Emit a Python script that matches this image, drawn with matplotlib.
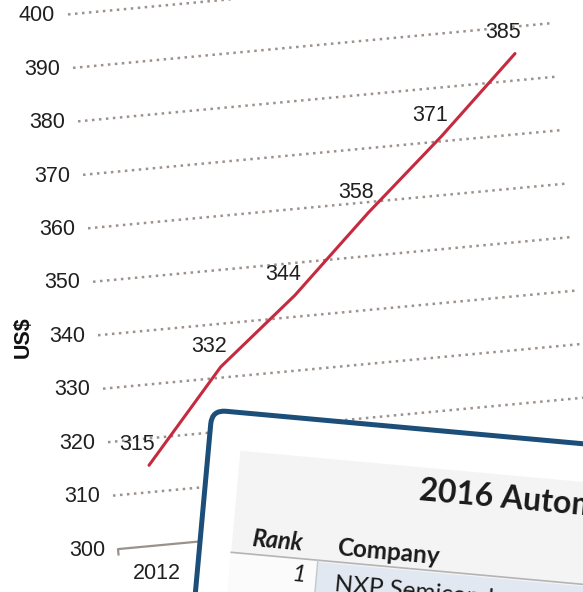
"""Cost per vehicle line chart (tilted photo) with a 2016 ranking table card on top."""

import matplotlib

matplotlib.use("Agg")
import matplotlib.pyplot as plt
from matplotlib.patches import FancyBboxPatch, Rectangle
from matplotlib.transforms import Affine2D

# chart data
years = ["2012", "2013", "2014", "2015", "2016", "2017"]
values = [315, 332, 344, 358, 371, 385]
y_ticks = [300, 310, 320, 330, 340, 350, 360, 370, 380, 390, 400]
y_label = "US$"

# inset table text
table_title = "2016 Automotive Semiconductor Ranking"
table_header = ["Rank", "Company"]
table_row = ["1", "NXP Semiconductors"]

RED = "#c62a3f"
GRID = "#9c928b"
TEXT = "#202020"
NAVY = "#1b4e79"
FONT = "Liberation Sans"
TABLE_FONT = "Lato"

W, H, DPI = 583, 592, 100


def main():
    fig = plt.figure(figsize=(W / DPI, H / DPI), dpi=DPI)
    fig.patch.set_facecolor("white")

    # unrotated axes, then the whole thing is tilted ~5 deg about (2012, 300)
    step, unit = 80.55, 5.37
    x0, y0 = 156.5, 46.5
    ax = fig.add_axes([(x0 - 0.5 * step) / W, y0 / H, 6 * step / W, 100 * unit / H])
    ax.set_xlim(-0.5, 5.5)
    ax.set_ylim(300, 400)
    ax.axis("off")
    tilt = (fig.dpi_scale_trans.inverted()
            + Affine2D().rotate_deg_around(x0 / DPI, y0 / DPI, 5.34)
            + fig.dpi_scale_trans)
    T = ax.transData + tilt

    xs = list(range(len(years)))
    for v in y_ticks[1:]:
        ax.plot([-0.48, 5.5], [v, v], transform=T, clip_on=False, color=GRID,
                lw=1.8, linestyle=(0, (1, 1.8)))
    ax.plot([-0.48, -0.48, 5.5], [299.0, 300, 300], transform=T, clip_on=False,
            color="#9b918a", lw=1.6)
    for v in y_ticks:
        ax.text(-0.64, v, str(v), transform=T, ha="right", va="center",
                fontsize=15.5, color=TEXT, family=FONT, clip_on=False)
    for i, yr in zip(xs, years):
        ax.annotate(yr, (i, 300), xycoords=T, xytext=(0, -20),
                    textcoords="offset points", ha="center", va="center",
                    fontsize=15.5, color=TEXT, family=FONT, annotation_clip=False)

    ax.plot(xs, values, transform=T, clip_on=False, color=RED, lw=2.2,
            solid_capstyle="round")
    for i, v in zip(xs, values):
        ax.annotate(str(v), (i, v), xycoords=T, xytext=(-8.5, 15),
                    textcoords="offset points", ha="center", va="center",
                    fontsize=15.5, color=TEXT, family=FONT, annotation_clip=False)

    fig.text(23 / W, 255 / H, y_label, rotation=90, ha="center", va="center",
             fontsize=15.5, fontweight="bold", color="#111111", family=FONT)

    # inset card, rotated ~5 deg clockwise; frame units are pixels, w grows down
    px, py, ang = 212, 410, -5.2
    F = (Affine2D().scale(0.01, -0.01).rotate_deg(ang)
         .translate(px / DPI, (H - py) / DPI) + fig.dpi_scale_trans)
    card = FancyBboxPatch((0, 0), 600, 400, boxstyle="round,pad=0,rounding_size=14",
                          transform=F, facecolor="white", edgecolor=NAVY, lw=3.6,
                          zorder=5)
    fig.add_artist(card)
    fig.add_artist(Rectangle((32, 38), 560, 300, transform=F, facecolor="#f4f4f4",
                             edgecolor="none", zorder=6))
    fig.add_artist(Rectangle((32, 140), 87, 200, transform=F, facecolor="#fbfbfb",
                             edgecolor="none", zorder=6))
    fig.add_artist(Rectangle((119, 142), 480, 200, transform=F, facecolor="#e2e8f1",
                             edgecolor="none", zorder=6))
    fig.add_artist(plt.Line2D([32, 600], [140, 140], transform=F, color="#b4b4b4",
                              lw=1.2, zorder=7))
    fig.add_artist(plt.Line2D([119, 119], [140, 340], transform=F, color="#c4c8cc",
                              lw=1.0, zorder=7))

    def card_text(u, w, s, **kw):
        fig.text(u, w, s, transform=F, rotation=ang, rotation_mode="anchor",
                 va="center", color="#1a1a1a", family=TABLE_FONT, zorder=8, **kw)

    card_text(214, 61, table_title, fontsize=23, fontweight="bold", ha="left")
    card_text(51, 124, table_header[0], fontsize=17, fontweight="bold",
              style="italic", ha="left")
    card_text(137, 126, table_header[1], fontsize=17.5, fontweight="bold", ha="left")
    card_text(109, 157, table_row[0], fontsize=17, style="italic", ha="right")
    card_text(138, 163, table_row[1], fontsize=17.5, ha="left")

    fig.savefig("out.png", dpi=DPI)
    plt.close(fig)


if __name__ == "__main__":
    main()
